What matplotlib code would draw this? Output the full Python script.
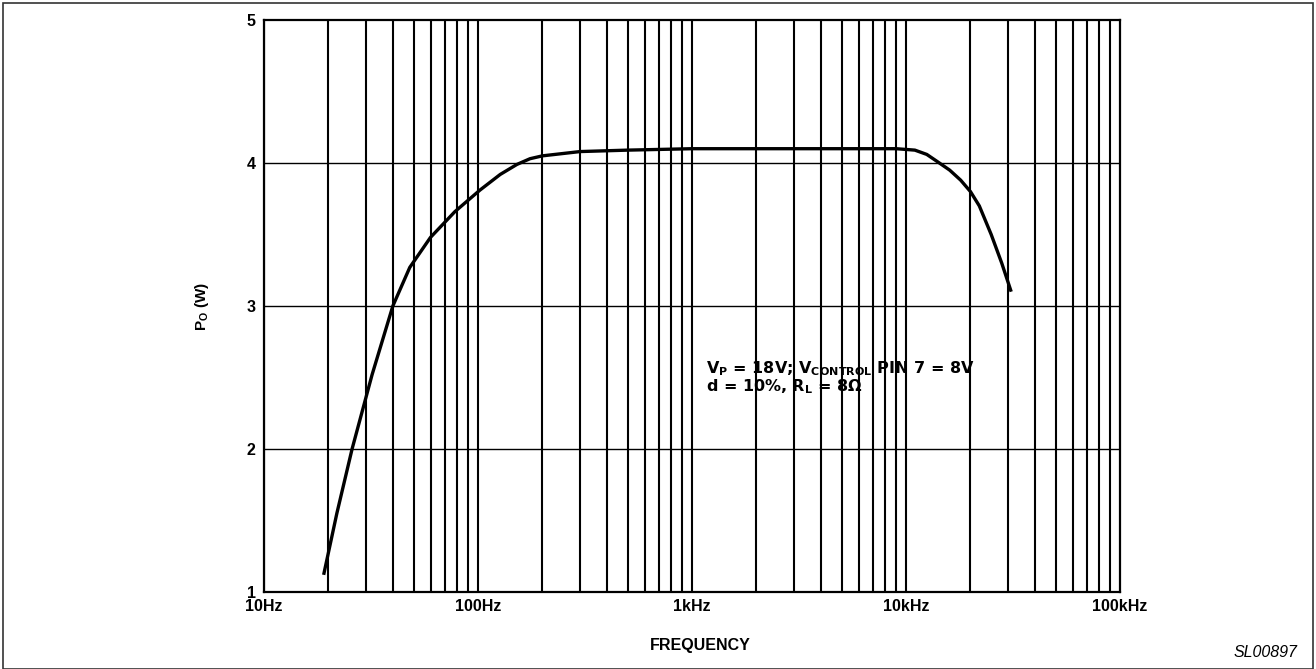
import numpy as np
import matplotlib.pyplot as plt
from matplotlib.patches import Rectangle

plt.rcParams["font.family"] = ["Liberation Sans", "DejaVu Sans"]

# output power vs frequency
freq_hz = [19, 21.9, 25.8, 32, 40, 48, 60, 78, 102, 127, 152, 175,
           200, 300, 500, 1000, 3000, 9000, 11000, 12500, 14000, 16000, 18000,
           20000, 22000, 25000, 28000, 31000]
power_w = [1.12, 1.55, 2.0, 2.52, 3.0, 3.27, 3.48, 3.66, 3.81, 3.92, 3.99, 4.03,
           4.05, 4.08, 4.09, 4.1, 4.1, 4.1, 4.09, 4.06, 4.01, 3.95, 3.88,
           3.8, 3.7, 3.5, 3.3, 3.1]

decades = [10, 100, 1000, 10000, 100000]
decade_labels = ["10Hz", "100Hz", "1kHz", "10kHz", "100kHz"]
y_ticks = [1, 2, 3, 4, 5]

fig = plt.figure(figsize=(13.16, 6.69), dpi=100)
fig.patches.append(Rectangle((0.0025, 0.0), 0.995, 0.996, transform=fig.transFigure,
                             fill=False, edgecolor="#333333", linewidth=1.2))

ax = fig.add_axes([0.2006, 0.1151, 0.6505, 0.855])
ax.set_xscale("log")
ax.set_xlim(10, 100000)
ax.set_ylim(1, 5)

# log grid, heavy verticals like the printed chart
minor = [m * d for d in decades[:-1] for m in range(1, 10)]
for f in minor:
    ax.axvline(f, color="black", linewidth=1.5, zorder=1)
for y in y_ticks[1:-1]:
    ax.axhline(y, color="black", linewidth=1.0, zorder=1)

ax.plot(freq_hz, power_w, color="black", linewidth=2.4, zorder=3,
        solid_capstyle="butt", solid_joinstyle="round")

ax.set_xticks(decades)
ax.set_xticklabels(decade_labels)
ax.xaxis.set_minor_locator(plt.NullLocator())
ax.set_yticks(y_ticks)
ax.tick_params(length=0, labelsize=11.5)
ax.tick_params(axis="x", pad=5)
ax.tick_params(axis="y", pad=6)
for lab in ax.get_xticklabels() + ax.get_yticklabels():
    lab.set_fontweight("bold")
for s in ax.spines.values():
    s.set_linewidth(1.6)

ax.set_ylabel("P$_\\mathregular{O}$ (W)", fontsize=11, fontweight="bold")
ax.yaxis.set_label_coords(-0.0724, 0.5)
ax.set_xlabel("FREQUENCY", fontsize=11.5, fontweight="bold")
ax.xaxis.set_label_coords(0.51, -0.0927)
ax.xaxis.label.set_va("center")
ax.yaxis.label.set_va("center")

ax.text(0.516, 0.383, "V$_\\mathregular{P}$ = 18V; V$_\\mathregular{CONTROL}$ PIN 7 = 8V",
        transform=ax.transAxes, fontsize=11.5, fontweight="bold",
        family=["DejaVu Sans"])
ax.text(0.516, 0.350, "d = 10%, R$_\\mathregular{L}$ = 8Ω",
        transform=ax.transAxes, fontsize=11.5, fontweight="bold",
        family=["DejaVu Sans"])

fig.text(0.9856, 0.013, "SL00897", ha="right", va="bottom", fontsize=11.5, style="italic")

plt.savefig("out.png", dpi=100)
plt.close()
